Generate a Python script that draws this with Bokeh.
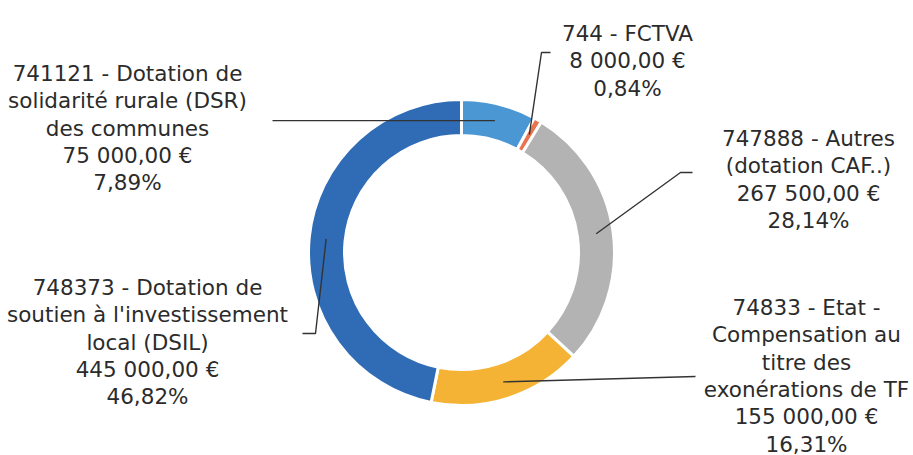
import math
from bokeh.plotting import figure
from bokeh.models import ColumnDataSource, Range1d
from bokeh.core.properties import value
from bokeh.embed import file_html
from bokeh.resources import INLINE

# ---- data (clockwise from 12 o'clock) ----
categories = ["741121", "744", "747888", "74833", "748373"]
label_names = [
    ["741121 - Dotation de", "solidarité rurale (DSR)", "des communes"],
    ["744 - FCTVA"],
    ["747888 - Autres", "(dotation CAF..)"],
    ["74833 - Etat -", "Compensation au", "titre des", "exonérations de TF"],
    ["748373 - Dotation de", "soutien à l'investissement", "local (DSIL)"],
]
amounts = [75000, 8000, 267500, 155000, 445000]
colors = ["#4b97d3", "#e8734f", "#b3b3b3", "#f5b335", "#2f6cb5"]

# ---- layout (image pixel coordinates, y downward) ----
W, H = 913, 455
CX, CY = 461, 252
R_IN, R_OUT = 117, 153
R_LEAD = 136
label_anchor = [(127, 73), (627, 33), (808, 138), (806, 307), (147, 287)]
leader_elbows = [
    [(272, None)],
    [(541, 52), (550, 52)],
    [(680, 172), (692, 172)],
    [(695, 376)],
    [(315, 333), (302, 333)],
]
LINE_H = 27.3
FONT = "DejaVu Sans"
FSIZE = "21.5px"
TXT = "#2b2b2b"


def Y(y):
    return H - y


def fmt_eur(v):
    s = f"{v:,.2f}"
    ip, dp = s.split(".")
    return ip.replace(",", " ") + "," + dp + " €"


def fmt_pct(p):
    return f"{p:.2f}".replace(".", ",") + "%"


total = sum(amounts)
fracs = [a / total for a in amounts]
starts, ends, mids = [], [], []
cum = 0.0
for f in fracs:
    a0 = math.pi / 2 - cum * 2 * math.pi
    a1 = math.pi / 2 - (cum + f) * 2 * math.pi
    starts.append(a0)
    ends.append(a1)
    mids.append((a0 + a1) / 2)
    cum += f

p = figure(width=W, height=H, output_backend="svg", toolbar_location=None,
           x_range=Range1d(0, W), y_range=Range1d(0, H), min_border=0)
p.axis.visible = False
p.grid.visible = False
p.outline_line_color = None
p.background_fill_color = "white"

src = ColumnDataSource(dict(start=starts, end=ends, color=colors,
                            cat=categories))
p.annular_wedge(x=CX, y=Y(CY), inner_radius=R_IN, outer_radius=R_OUT,
                start_angle="start", end_angle="end", direction="clock",
                fill_color="color", line_color="white", line_width=3,
                source=src)

# leader lines
for i, m in enumerate(mids):
    x0 = CX + R_LEAD * math.cos(m)
    y0 = Y(CY) + R_LEAD * math.sin(m)
    xs, ys = [x0], [y0]
    for (ex, ey) in leader_elbows[i]:
        xs.append(ex)
        ys.append(y0 if ey is None else Y(ey))
    p.line(xs, ys, line_color="#333333", line_width=1.4)

# labels
tx, ty, tt = [], [], []
for i in range(len(categories)):
    lines = label_names[i] + [fmt_eur(amounts[i]), fmt_pct(fracs[i] * 100)]
    ax, ay = label_anchor[i]
    for k, ln in enumerate(lines):
        tx.append(ax)
        ty.append(Y(ay + k * LINE_H))
        tt.append(ln)
p.text(x=tx, y=ty, text=tt, text_font=value(FONT), text_font_size=FSIZE,
       text_align="center", text_baseline="alphabetic", text_color=TXT)

open("out.html", "w").write(file_html(p, INLINE))
